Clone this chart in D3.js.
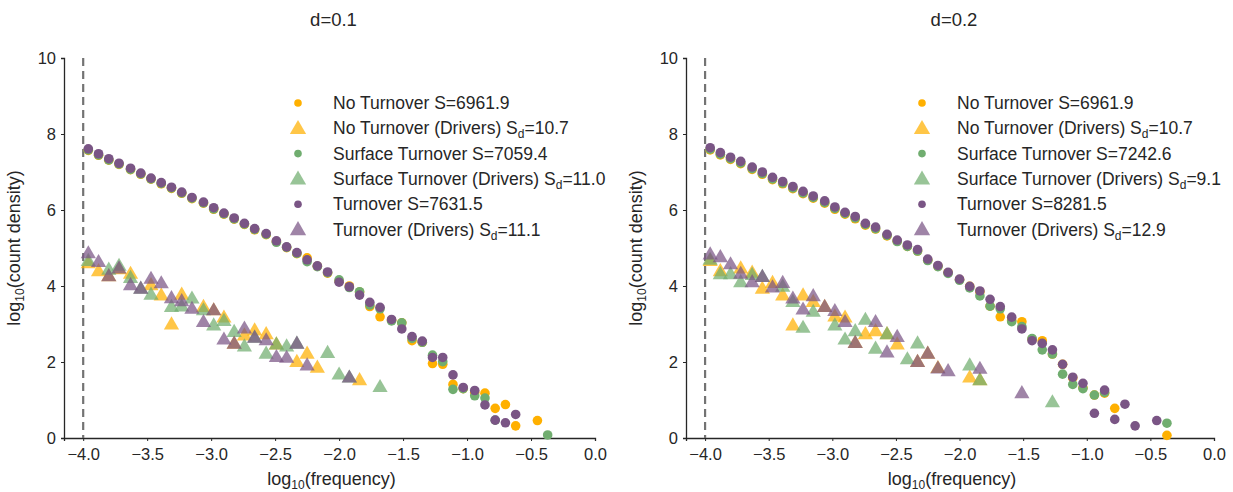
<!DOCTYPE html>
<html><head><meta charset="utf-8">
<script src="https://cdn.jsdelivr.net/npm/d3@7"></script>
<style>body{margin:0;background:#fff;} svg{display:block;font-family:"Liberation Sans",Arial,sans-serif;}</style>
</head><body>
<svg id="c" width="1233" height="492"></svg>
<script>
// log10 frequency bin centres
const logFreq = [-3.96,-3.88,-3.80,-3.72,-3.63,-3.55,-3.47,-3.39,-3.31,-3.23,-3.15,-3.06,-2.98,-2.90,-2.82,-2.74,-2.66,-2.57,-2.49,-2.41,-2.33,-2.25,-2.17,-2.09,-2.00,-1.92,-1.84,-1.76,-1.68,-1.59,-1.51,-1.43,-1.35,-1.27,-1.19,-1.11,-1.03,-0.94,-0.86,-0.78,-0.70,-0.62,-0.54,-0.45,-0.37];

// d=0.1
const d1_noTurn = [7.57,7.44,7.31,7.20,7.06,6.94,6.81,6.69,6.57,6.44,6.30,6.18,6.02,5.89,5.76,5.62,5.48,5.35,5.17,5.01,4.85,4.74,4.52,4.34,4.13,4.00,3.84,3.46,3.19,3.10,3.03,2.56,2.52,1.96,1.94,1.41,1.30,1.20,1.18,0.78,0.88,0.32,null,0.46,null];
const d1_surf   = [7.58,7.45,7.32,7.21,7.07,6.95,6.82,6.70,6.58,6.45,6.31,6.19,6.03,5.90,5.77,5.63,5.49,5.36,5.15,5.02,4.86,4.64,4.51,4.35,4.16,3.96,3.85,3.50,3.40,3.08,3.03,2.62,2.52,2.18,2.01,1.28,1.30,1.11,1.05,0.47,null,null,null,null,0.08];
const d1_turn   = [7.61,7.48,7.35,7.23,7.10,6.97,6.84,6.72,6.60,6.47,6.33,6.21,6.06,5.92,5.79,5.65,5.51,5.38,5.19,5.03,4.88,4.69,4.53,4.37,4.10,3.98,3.76,3.57,3.44,3.12,2.87,2.67,2.55,2.12,2.12,1.66,1.33,1.25,0.87,0.47,0.40,0.62,null,null,null];
const d1_noTurnDrv = [4.61,4.40,4.27,4.45,4.33,null,4.03,3.76,3.00,3.78,null,3.46,3.37,3.18,2.49,2.71,2.84,2.74,2.47,null,2.01,2.23,1.86,null,null,null,1.53];
const d1_surfDrv   = [4.67,null,4.44,4.54,4.22,3.94,3.78,null,3.46,3.47,3.68,3.37,2.97,3.09,2.80,2.42,2.65,2.23,2.47,2.42,2.49,null,null,2.25,1.68,1.60,null,null,1.35];
const d1_turnDrv   = [4.87,4.64,4.27,4.47,4.03,3.94,4.20,4.08,3.69,3.61,3.41,3.06,3.37,2.60,2.49,2.89,2.65,2.58,2.14,2.12,2.49,1.92,null,null,null,1.60];
const d1_labels = ["No Turnover S=6961.9","No Turnover (Drivers) |10.7","Surface Turnover S=7059.4","Surface Turnover (Drivers) |11.0","Turnover S=7631.5","Turnover (Drivers) |11.1"];

// d=0.2
const d2_noTurn = [7.58,7.45,7.33,7.22,7.07,6.94,6.80,6.69,6.56,6.43,6.31,6.18,6.02,5.89,5.77,5.60,5.50,5.32,5.18,5.04,4.92,4.68,4.52,4.35,4.17,3.99,3.85,3.47,3.19,3.10,3.06,2.60,2.56,2.21,1.94,1.58,1.32,1.13,1.18,0.78,null,null,null,null,0.07];
const d2_surf   = [7.60,7.47,7.35,7.24,7.09,6.96,6.82,6.71,6.58,6.45,6.33,6.20,6.04,5.91,5.79,5.62,5.51,5.33,5.17,5.04,4.92,4.67,4.51,4.33,4.15,3.95,3.74,3.47,3.40,3.06,2.93,2.62,2.32,2.21,1.68,1.41,1.30,1.13,1.20,null,null,null,null,null,0.39];
const d2_turn   = [7.64,7.51,7.39,7.28,7.13,7.00,6.86,6.75,6.62,6.49,6.37,6.24,6.08,5.94,5.83,5.65,5.55,5.36,5.21,5.08,4.96,4.71,4.54,4.36,4.18,3.99,3.87,3.65,3.46,3.18,2.87,2.56,2.49,2.32,1.94,1.60,1.44,0.65,1.26,0.49,0.89,0.32,null,0.46,null];
const d2_noTurnDrv = [4.67,4.40,null,4.47,4.36,3.94,4.09,3.76,2.97,3.76,3.59,3.46,3.21,3.18,2.51,2.74,2.82,2.74,2.47,null,2.01,2.23,1.85,null,null,1.60,1.53];
const d2_surfDrv   = [4.70,4.32,4.32,4.11,4.30,4.25,null,3.99,3.59,2.91,3.33,null,2.97,2.60,2.82,3.12,2.36,2.74,null,2.08,2.50,null,null,null,null,1.92,1.53,null,null,null,null,null,null,0.95];
const d2_turnDrv   = [4.84,4.77,4.58,4.33,4.11,4.25,3.97,4.09,3.68,3.39,3.74,3.46,3.35,3.06,2.51,null,3.06,2.26,2.67,null,2.01,2.23,1.84,1.77,null,null,1.83,null,null,null,1.19];
const d2_labels = ["No Turnover S=6961.9","No Turnover (Drivers) |10.7","Surface Turnover S=7242.6","Surface Turnover (Drivers) |9.1","Turnover S=8281.5","Turnover (Drivers) |12.9"];

const xTicks = [-4.0,-3.5,-3.0,-2.5,-2.0,-1.5,-1.0,-0.5,0.0];
const yTicks = [0,2,4,6,8,10];
const colors = ["#ffb000","#70ad6f","#7a5585"];

const svg = d3.select("#c");
const tri = d3.symbol().type(d3.symbolTriangle).size(100);
const triLeg = d3.symbol().type(d3.symbolTriangle).size(115);

function panel(cfg){
  const x = d3.scaleLinear().domain([-4.15,0]).range([cfg.x0,cfg.x1]);
  const y = d3.scaleLinear().domain([0,10]).range([438,58]);
  const g = svg.append("g");
  const ax = g.append("g").attr("transform","translate(0,438)")
    .call(d3.axisBottom(x).tickValues(xTicks).tickFormat(d=>d3.format(".1f")(d).replace("-","\u2212")).tickSizeOuter(0).tickSize(3));
  const ay = g.append("g").attr("transform",`translate(${cfg.x0},0)`)
    .call(d3.axisLeft(y).tickValues(yTicks).tickSizeOuter(0).tickSize(3));
  [ax,ay].forEach(a=>{
    a.select(".domain").attr("stroke","#262626").attr("stroke-width",1.3);
    a.selectAll(".tick line").attr("stroke","#262626");
    a.selectAll(".tick text").attr("fill","#262626").attr("font-size",16.5).attr("font-family","Liberation Sans, Arial, sans-serif");
  });
  ax.selectAll(".tick text").attr("dy","0.95em");
  ay.selectAll(".tick text").attr("x",-8);
  g.append("line").attr("x1",x(-4)).attr("x2",x(-4)).attr("y1",y(10)).attr("y2",y(0))
    .attr("stroke","#737373").attr("stroke-width",2.2).attr("stroke-dasharray","8,5");
  const sets = [
    {v:cfg.noTurn, t:"c", c:0},{v:cfg.noTurnDrv, t:"t", c:0},
    {v:cfg.surf, t:"c", c:1},{v:cfg.surfDrv, t:"t", c:1},
    {v:cfg.turn, t:"c", c:2},{v:cfg.turnDrv, t:"t", c:2}];
  sets.forEach(s=>{
    const pts = s.v.map((v,i)=>({x:logFreq[i],y:v})).filter(d=>d.y!=null);
    if(s.t==="c"){
      g.append("g").selectAll("circle").data(pts).join("circle")
        .attr("cx",d=>x(d.x)).attr("cy",d=>y(d.y)).attr("r",4.8).attr("fill",colors[s.c]);
    } else {
      g.append("g").selectAll("path").data(pts).join("path")
        .attr("d",tri).attr("transform",d=>`translate(${x(d.x)},${y(d.y)+1})`)
        .attr("fill",colors[s.c]).attr("fill-opacity",0.72);
    }
  });
  g.append("text").attr("x",(cfg.x0+cfg.x1)/2+4).attr("y",26).attr("text-anchor","middle")
    .attr("font-size",18.5).attr("fill","#262626").text(cfg.title);
  const xl = g.append("text").attr("x",(cfg.x0+cfg.x1)/2+2).attr("y",485).attr("text-anchor","middle")
    .attr("font-size",18).attr("fill","#262626");
  xl.append("tspan").text("log");
  xl.append("tspan").attr("font-size",12).attr("dy",4).text("10");
  xl.append("tspan").attr("dy",-4).text("(frequency)");
  const yl = g.append("text").attr("transform",`translate(${cfg.x0-44},248) rotate(-90)`).attr("text-anchor","middle")
    .attr("font-size",18).attr("fill","#262626");
  yl.append("tspan").text("log");
  yl.append("tspan").attr("font-size",12).attr("dy",4).text("10");
  yl.append("tspan").attr("dy",-4).text("(count density)");
  const lg = g.append("g");
  cfg.labels.forEach((lab,i)=>{
    const yy = 103 + i*25.3;
    const c = colors[Math.floor(i/2)];
    if(i%2===0){
      lg.append("circle").attr("cx",cfg.legX).attr("cy",yy).attr("r",3.8).attr("fill",c);
    } else {
      lg.append("path").attr("d",triLeg).attr("transform",`translate(${cfg.legX},${yy+1})`).attr("fill",c).attr("fill-opacity",0.72);
    }
    const t = lg.append("text").attr("x",cfg.legX+35).attr("y",yy+6).attr("font-size",17.5).attr("fill","#262626");
    if(lab.includes("|")){
      const parts = lab.split("|");
      t.append("tspan").text(parts[0]+"S");
      t.append("tspan").attr("font-size",12).attr("dy",4).text("d");
      t.append("tspan").attr("dy",-4).text("="+parts[1]);
    } else t.text(lab);
  });
}

panel({x0:64,x1:595,title:"d=0.1",legX:298,labels:d1_labels,
  noTurn:d1_noTurn,surf:d1_surf,turn:d1_turn,noTurnDrv:d1_noTurnDrv,surfDrv:d1_surfDrv,turnDrv:d1_turnDrv});
panel({x0:686,x1:1214,title:"d=0.2",legX:922,labels:d2_labels,
  noTurn:d2_noTurn,surf:d2_surf,turn:d2_turn,noTurnDrv:d2_noTurnDrv,surfDrv:d2_surfDrv,turnDrv:d2_turnDrv});
</script>
</body></html>
